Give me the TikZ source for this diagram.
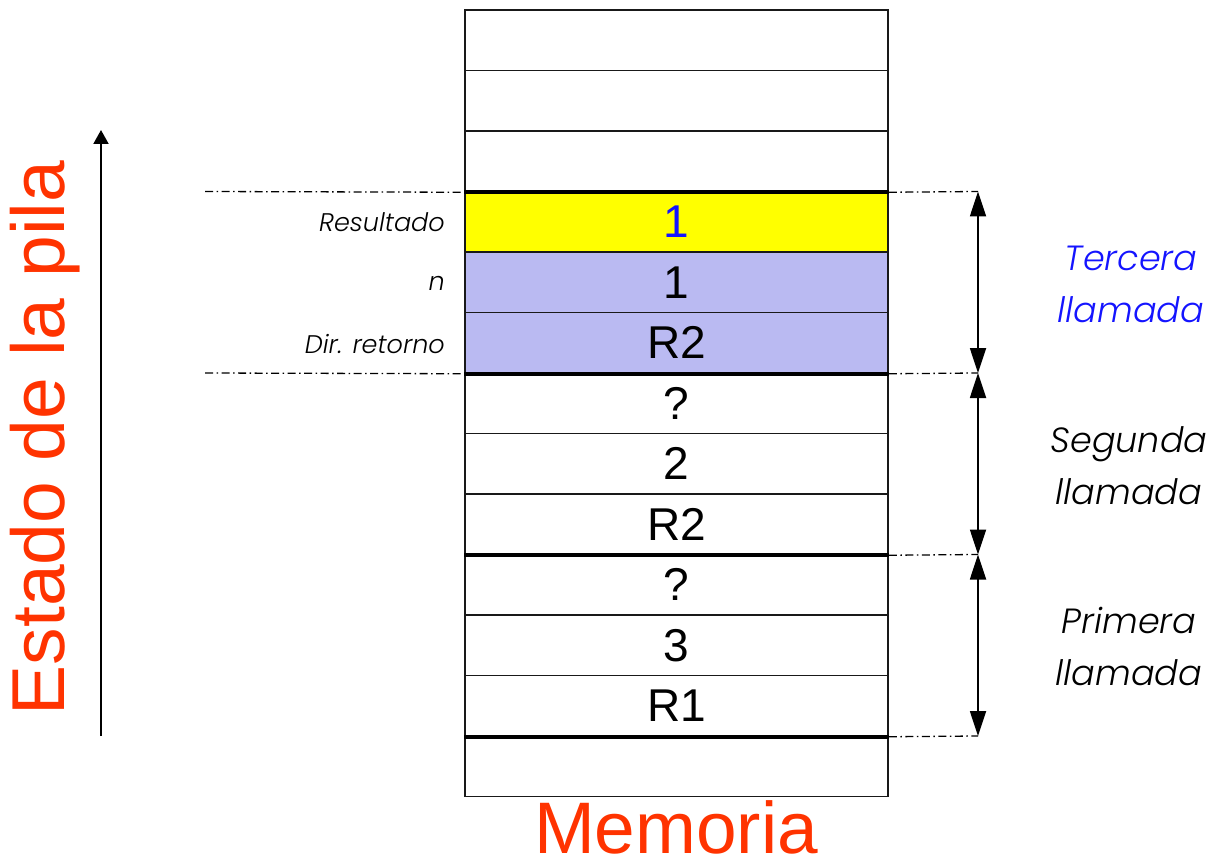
\documentclass[tikz,border=0pt]{standalone}
\usepackage{fontspec}
\setmainfont{Liberation Sans}
\newfontfamily\geofont{Poppins}[UprightFont=* Light, ItalicFont=* Light Italic]
\usetikzlibrary{arrows.meta}
\definecolor{pilared}{RGB}{255,51,0}
\definecolor{callblue}{RGB}{20,20,255}
\definecolor{framefill}{RGB}{186,186,242}
\definecolor{resfill}{RGB}{255,255,0}
\begin{document}
\begin{tikzpicture}[x=1pt,y=-1pt,
  cell/.style={draw=black!90,line width=1.5pt,minimum width=423pt,minimum height=60.5pt,
    inner sep=0pt,font=\fontsize{46}{46}\selectfont},
  sep/.style={line width=4pt,black},
  guide/.style={line width=1.3pt,dash pattern=on 8pt off 3.5pt on 1.5pt off 3.5pt},
  span/.style={line width=1.8pt,{Triangle[length=25pt,width=16pt]}-{Triangle[length=25pt,width=16pt]}},
  fieldlabel/.style={anchor=east,inner sep=0pt,font=\geofont\itshape\fontsize{25.5}{25.5}\selectfont},
  calltext/.style={align=center,inner sep=0pt,font=\geofont\itshape\fontsize{35}{52}\selectfont},
  pilatext/.style={text=pilared,inner sep=0pt,font=\fontsize{75}{75}\selectfont}]
\useasboundingbox (0,0) rectangle (1211,861);

% memory cells, top to bottom
\foreach \i/\txt/\fillc/\txtc in {1//white/black,2//white/black,3//white/black,
    4/1/resfill/callblue,5/1/framefill/black,6/R2/framefill/black,
    7/?/white/black,8/2/white/black,9/R2/white/black,
    10/?/white/black,11/3/white/black,12/R1/white/black,13//white/black}
  \node[cell,fill=\fillc,text=\txtc] (c\i) at (676.5,{10+60.5*(\i-0.5)}) {\txt};

% frame boundaries
\foreach \i in {3,6,9,12}
  \draw[sep] (c\i.south west) -- (c\i.south east);

% guide coordinates
\coordinate (gl1) at (205,191.5);
\coordinate (gl2) at (205,373);
\coordinate (gr1) at (978,191.5);
\coordinate (gr2) at (978,373);
\coordinate (gr3) at (978,554.5);
\coordinate (gr4) at (978,736);

\draw[guide] (gl1) -- (c3.south west);
\draw[guide] (gl2) -- (c6.south west);
\draw[guide] (c3.south east) -- (gr1);
\draw[guide] (c6.south east) -- (gr2);
\draw[guide] (c9.south east) -- (gr3);
\draw[guide] (c12.south east) -- (gr4);

\draw[span] (gr1) -- (gr2);
\draw[span] (gr2) -- (gr3);
\draw[span] (gr3) -- (gr4);

% field names
\node[fieldlabel] (lres) at (445,222) {Resultado};
\node[fieldlabel] (ln) at (445,283) {n};
\node[fieldlabel] (ldir) at (445,344) {Dir. retorno};

% call names
\node[calltext,text=callblue] (call3) at (1131,284) {Tercera\\llamada};
\node[calltext] (call2) at (1129,466) {Segunda\\llamada};
\node[calltext] (call1) at (1129,646) {Primera\\llamada};

% stack growth
\coordinate (gbot) at (101,736);
\coordinate (gtop) at (101,130);
\draw[line width=2pt,-{Triangle[length=14pt,width=15pt]}] (gbot) -- (gtop);
\node[pilatext,rotate=90] (estado) at (45,438) {Estado de la pila};
\node[pilatext,font=\fontsize{73}{73}\selectfont] (memoria) at (676,827) {Memoria};
\end{tikzpicture}
\end{document}
